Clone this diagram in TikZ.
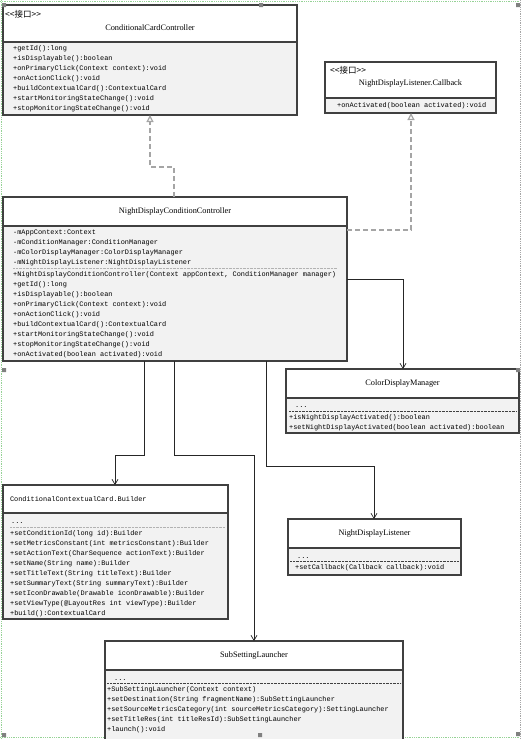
\documentclass[tikz,border=0pt]{standalone}
\usepackage{fontspec}
\setmainfont{Liberation Serif}
\setmonofont{Liberation Mono}
\newfontfamily\cjk{Noto Sans CJK SC}
\usetikzlibrary{arrows.meta,positioning}
\definecolor{boxLine}{RGB}{64,64,64}
\definecolor{bodyFill}{RGB}{242,242,242}
\definecolor{frameGreen}{RGB}{150,210,150}
\definecolor{linkGray}{RGB}{165,165,165}
\definecolor{handleGray}{RGB}{128,128,128}

\begin{document}
\begin{tikzpicture}[x=1pt,y=-1pt,
		classHead/.style={draw=boxLine,line width=1.1pt,fill=white,anchor=north west,inner sep=0pt,outer sep=0pt,font=\fontsize{8.3}{10}\selectfont},
		classBody/.style={draw=boxLine,line width=1.1pt,fill=bodyFill,inner sep=0pt,outer sep=0pt},
		className/.style={inner sep=0pt,font=\fontsize{8.3}{10}\selectfont},
		members/.style={anchor=north west,inner sep=0pt,align=left,font=\ttfamily\fontsize{6.9}{10}\selectfont},
		stereo/.style={anchor=west,inner sep=0pt,font=\cjk\fontsize{8.5}{9}\selectfont},
		sepLine/.style={line width=0.7pt,dash pattern=on 0.7pt off 0.7pt},
		realize/.style={linkGray,line width=1.2pt,dash pattern=on 5pt off 3pt,-{Triangle[open,length=7pt,width=7pt,fill=white]}},
		assoc/.style={black!85,line width=0.7pt,-{Straight Barb[length=5pt,width=6pt]}}]
	\useasboundingbox (0,0) rectangle (525,739);

	\draw[frameGreen,line width=0.8pt,densely dotted] (0,1.5) -- (520,1.5) (1.5,0) -- (1.5,739) (0,737) -- (520,737);
	\draw[gray!70,line width=0.8pt,densely dotted] (520.5,0) -- (520.5,739);

	% interfaces
	\node[classHead,minimum width=294pt,minimum height=37pt] (ccc) at (3,5) {};
	\node[classBody,minimum width=294pt,minimum height=73pt,below=0pt of ccc] (ccc-body) {};
	\node[stereo] (ccc-st) at (5,14) {<<接口>>};
	\node[className] (ccc-name) at (150,28) {ConditionalCardController};
	\node[members] (ccc-ops) at (13,43.5) {\strut+getId():long\\+isDisplayable():boolean\\+onPrimaryClick(Context context):void\\+onActionClick():void\\+buildContextualCard():ContextualCard\\+startMonitoringStateChange():void\\+stopMonitoringStateChange():void};

	\node[classHead,minimum width=171pt,minimum height=36pt] (cb) at (325,62) {};
	\node[classBody,minimum width=171pt,minimum height=15pt,below=0pt of cb] (cb-body) {};
	\node[stereo] (cb-st) at (330,70) {<<接口>>};
	\node[className] (cb-name) at (410.5,84) {NightDisplayListener.Callback};
	\node[members] (cb-ops) at (337,100.5) {\strut+onActivated(boolean activated):void};

	% controller
	\node[classHead,minimum width=344pt,minimum height=29pt] (ndcc) at (3,197) {NightDisplayConditionController};
	\node[classBody,minimum width=344pt,minimum height=135pt,below=0pt of ndcc] (ndcc-body) {};
	\node[members] (ndcc-attr) at (13,227.5) {\strut-mAppContext:Context\\-mConditionManager:ConditionManager\\-mColorDisplayManager:ColorDisplayManager\\-mNightDisplayListener:NightDisplayListener};
	\draw[sepLine,gray!60] (13,268) -- (337,268);
	\node[members] (ndcc-ops) at (13,269.5) {\strut+NightDisplayConditionController(Context appContext, ConditionManager manager)\\+getId():long\\+isDisplayable():boolean\\+onPrimaryClick(Context context):void\\+onActionClick():void\\+buildContextualCard():ContextualCard\\+startMonitoringStateChange():void\\+stopMonitoringStateChange():void\\+onActivated(boolean activated):void};

	% used classes
	\node[classHead,minimum width=233pt,minimum height=29pt] (cdm) at (286,369) {ColorDisplayManager};
	\node[classBody,minimum width=233pt,minimum height=35pt,below=0pt of cdm] (cdm-body) {};
	\node[members] (cdm-dots) at (295,400.5) {\strut...};
	\draw[sepLine,boxLine] (289,411) -- (516,411);
	\node[members] (cdm-ops) at (289,412.5) {\strut+isNightDisplayActivated():boolean\\+setNightDisplayActivated(boolean activated):boolean};

	\node[classHead,minimum height=28pt,text width=211pt,inner xsep=7pt,align=left,font=\ttfamily\fontsize{6.9}{10}\selectfont] (bld) at (3,485) {ConditionalContextualCard.Builder};
	\node[classBody,minimum width=225pt,minimum height=106pt,below=0pt of bld] (bld-body) {};
	\node[members] (bld-dots) at (11,516.5) {\strut...};
	\draw[sepLine,gray!60] (10,527) -- (225,527);
	\node[members] (bld-ops) at (10,528.5) {\strut+setConditionId(long id):Builder\\+setMetricsConstant(int metricsConstant):Builder\\+setActionText(CharSequence actionText):Builder\\+setName(String name):Builder\\+setTitleText(String titleText):Builder\\+setSummaryText(String summaryText):Builder\\+setIconDrawable(Drawable iconDrawable):Builder\\+setViewType(@LayoutRes int viewType):Builder\\+build():ContextualCard};

	\node[classHead,minimum width=173pt,minimum height=29pt] (ndl) at (288,519) {NightDisplayListener};
	\node[classBody,minimum width=173pt,minimum height=27pt,below=0pt of ndl] (ndl-body) {};
	\node[members] (ndl-dots) at (297,551.5) {\strut...};
	\draw[sepLine,boxLine] (290,561) -- (459,561);
	\node[members] (ndl-ops) at (295,562.5) {\strut+setCallback(Callback callback):void};

	\node[classHead,minimum width=298pt,minimum height=29pt] (ssl) at (105,641) {SubSettingLauncher};
	\node[classBody,minimum width=298pt,minimum height=104pt,below=0pt of ssl] (ssl-body) {};
	\node[members] (ssl-dots) at (114,673.5) {\strut...};
	\draw[sepLine,boxLine] (107,683) -- (401,683);
	\node[members] (ssl-ops) at (107,684.5) {\strut+SubSettingLauncher(Context context)\\+setDestination(String fragmentName):SubSettingLauncher\\+setSourceMetricsCategory(int sourceMetricsCategory):SettingLauncher\\+setTitleRes(int titleResId):SubSettingLauncher\\+launch():void};

	% links
	\draw[realize] ([xshift=171pt]ndcc.north west) -- ++(0,-30) -| ([xshift=147pt]ccc-body.south west);
	\draw[realize] ([yshift=-4pt]ndcc-body.north east) -| ([xshift=86pt]cb-body.south west);
	\draw[assoc] ([yshift=-53pt]ndcc-body.north east) -| ([xshift=117pt]cdm.north west);
	\draw[assoc] ([xshift=141pt]ndcc-body.south west) -- ++(0,94) -| ([xshift=112pt]bld.north west);
	\draw[assoc] ([xshift=171pt]ndcc-body.south west) -- ++(0,94) -| ([xshift=149pt]ssl.north west);
	\draw[assoc] ([xshift=263pt]ndcc-body.south west) -- ++(0,105) -| ([xshift=86pt]ndl.north west);

	\fill[handleGray] (2,3) rectangle ++(4,4) (259,3) rectangle ++(4,4) (516,3) rectangle ++(4,4) (2,368) rectangle ++(4,4) (516,368) rectangle ++(4,4) (2,733) rectangle ++(4,4) (258,733) rectangle ++(4,4) (516,732) rectangle ++(4,4);
\end{tikzpicture}
\end{document}
